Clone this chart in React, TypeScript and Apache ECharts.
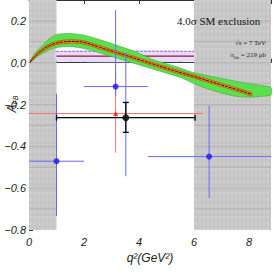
import React, { useEffect, useRef } from "react";
import * as echarts from "echarts";

// ---- data ----
const xTicks = [0, 2, 4, 6, 8];
const yTicks = [-0.8, -0.6, -0.4, -0.2, 0.0, 0.2];
const gridLevels = [-0.7, -0.6, -0.5, -0.4, -0.3, -0.2, -0.1, 0.0, 0.1, 0.2];
const X_MIN = 0, X_MAX = 8.8, Y_MIN = -0.8, Y_MAX = 0.3;

const shadeStart = [0, 6];
const shadeEnd = [1, 8.8];

const greenX = [0.05, 0.25, 0.5, 0.75, 1.0, 1.5, 2.0, 2.5, 3.0, 3.5, 4.0, 4.5, 5.0, 5.5, 6.0, 6.5, 7.0, 7.5, 8.0, 8.5, 8.8];
const greenLo = [0.0, 0.025, 0.045, 0.062, 0.073, 0.078, 0.068, 0.05, 0.03, 0.01, -0.01, -0.03, -0.05, -0.07, -0.1, -0.125, -0.145, -0.16, -0.165, -0.16, -0.155];
const greenHi = [0.01, 0.05, 0.085, 0.115, 0.135, 0.14, 0.132, 0.113, 0.092, 0.07, 0.045, 0.015, -0.005, -0.025, -0.048, -0.062, -0.075, -0.088, -0.1, -0.11, -0.118];

const smX = [0.05, 0.25, 0.5, 0.75, 1.0, 1.25, 1.5, 1.75, 2.0, 2.5, 3.0, 3.5, 4.0, 4.5, 5.0, 5.5, 6.0, 6.5, 7.0, 7.5, 8.0, 8.1];
const smCentral = [0.005, 0.035, 0.062, 0.082, 0.094, 0.1, 0.102, 0.101, 0.097, 0.077, 0.056, 0.036, 0.015, -0.006, -0.027, -0.047, -0.066, -0.086, -0.106, -0.126, -0.147, -0.151];
const orangeLo = [0.0, 0.028, 0.054, 0.074, 0.086, 0.092, 0.094, 0.093, 0.089, 0.069, 0.048, 0.028, 0.007, -0.014, -0.035, -0.055, -0.074, -0.094, -0.114, -0.134, -0.155, -0.159];
const orangeHi = [0.01, 0.042, 0.07, 0.09, 0.102, 0.108, 0.11, 0.109, 0.105, 0.085, 0.064, 0.044, 0.023, 0.002, -0.019, -0.039, -0.058, -0.078, -0.098, -0.118, -0.139, -0.143];

const bandX = [1.0, 6.0];
const bandLo = [0.0095, 0.0095];
const bandHi = [0.054, 0.054];
const bandMid = [0.032, 0.032];

// [x, y, xlo, xhi, ylo, yhi]
const bluePoints = [
  [3.15, -0.114, 2.0, 4.32, -0.16, 0.252],
  [1.0, -0.471, 0.0, 2.0, -0.733, -0.148],
  [6.55, -0.449, 4.32, 8.8, -0.648, -0.205],
];
const blueTotal = [[3.52, -0.263, 3.52, 3.52, -0.543, 0.048]];
const redPoints = [[3.15, -0.243, 0.0, 6.33, -0.43, -0.045]];
const blackPoints = [[3.52, -0.263, 1.0, 6.04, -0.333, -0.19]];

function errorBarSeries(data: number[][], color: string, width: number, cap: number, z: number) {
  return {
    type: "custom",
    z,
    data,
    encode: { x: 0, y: 1 },
    renderItem: (_p: any, api: any) => {
      const x = api.value(0), y = api.value(1);
      const xl = api.value(2), xh = api.value(3), yl = api.value(4), yh = api.value(5);
      const a = api.coord([xl, y]);
      const b = api.coord([xh, y]);
      const c = api.coord([x, yl]);
      const d = api.coord([x, yh]);
      const st = { stroke: color, lineWidth: width };
      const ch: any[] = [];
      if (xh > xl) ch.push({ type: "line", shape: { x1: a[0], y1: a[1], x2: b[0], y2: b[1] }, style: st });
      if (yh > yl) ch.push({ type: "line", shape: { x1: c[0], y1: c[1], x2: d[0], y2: d[1] }, style: st });
      if (cap > 0) {
        ch.push({ type: "line", shape: { x1: a[0], y1: a[1] - cap, x2: a[0], y2: a[1] + cap }, style: st });
        ch.push({ type: "line", shape: { x1: b[0], y1: b[1] - cap, x2: b[0], y2: b[1] + cap }, style: st });
        ch.push({ type: "line", shape: { x1: c[0] - cap, y1: c[1], x2: c[0] + cap, y2: c[1] }, style: st });
        ch.push({ type: "line", shape: { x1: d[0] - cap, y1: d[1], x2: d[0] + cap, y2: d[1] }, style: st });
      }
      return { type: "group", children: ch };
    },
  };
}

function bandSeries(xs: number[], lo: number[], hi: number[], fill: string, stroke: string, z: number) {
  return {
    type: "custom",
    z,
    data: [[xs[0], lo[0]]],
    renderItem: (_p: any, api: any) => {
      const top = xs.map((x, i) => api.coord([x, hi[i]]));
      const bot = xs.map((x, i) => api.coord([x, lo[i]])).reverse();
      return {
        type: "polygon",
        shape: { points: top.concat(bot), smooth: 0.2 },
        style: { fill, stroke, lineWidth: 0.6 },
      };
    },
  };
}

export default function App() {
  const ref = useRef<HTMLDivElement>(null);
  useEffect(() => {
    if (!ref.current) return;
    const chart = echarts.init(ref.current, null, { renderer: "svg" });
    const labelFont = { fontFamily: "Liberation Sans", fontStyle: "italic", fontSize: 11, color: "#222" };
    chart.setOption({
      animation: false,
      grid: { left: 29, right: 0, top: 0, bottom: 44 },
      xAxis: [
        {
          type: "value", min: X_MIN, max: X_MAX, interval: 2,
          axisLine: { show: true, lineStyle: { color: "#333", width: 1 } },
          axisTick: { show: true, inside: true, length: 4, lineStyle: { color: "#333" } },
          minorTick: { show: true, splitNumber: 4, length: 2, lineStyle: { color: "#555" } },
          splitLine: { show: false },
          axisLabel: { ...labelFont, margin: 6, formatter: (v: number) => (xTicks.includes(v) ? String(v) : "") },
        },
        {
          type: "value", position: "top", min: X_MIN, max: X_MAX, interval: 2,
          axisLine: { show: true, lineStyle: { color: "#333", width: 1 } },
          axisTick: { show: true, inside: true, length: 4, lineStyle: { color: "#333" } },
          axisLabel: { show: false }, splitLine: { show: false },
        },
      ],
      yAxis: {
        type: "value", min: Y_MIN, max: Y_MAX, interval: 0.2,
        axisLine: { show: true, lineStyle: { color: "#333", width: 1 } },
        axisTick: { show: true, inside: true, length: 4, lineStyle: { color: "#333" } },
        minorTick: { show: true, splitNumber: 4, length: 2, lineStyle: { color: "#555" } },
        splitLine: { show: false },
        axisLabel: {
          ...labelFont, margin: 3,
          formatter: (v: number) => {
            const t = yTicks.find((k) => Math.abs(k - v) < 1e-6);
            return t === undefined ? "" : t.toFixed(1).replace("-", "−");
          },
        },
      },
      series: [
        {
          type: "custom",
          z: 1,
          data: shadeStart.map((s, i) => [s, shadeEnd[i]]),
          renderItem: (_p: any, api: any) => {
            const x0 = api.value(0), x1 = api.value(1);
            const p0 = api.coord([x0, Y_MAX]);
            const p1 = api.coord([x1, Y_MIN]);
            const ch: any[] = [
              { type: "rect", shape: { x: p0[0], y: p0[1], width: p1[0] - p0[0], height: p1[1] - p0[1] }, style: { fill: "#c6c6c6" } },
            ];
            for (let px = p0[0] + 2; px < p1[0]; px += 4) {
              ch.push({ type: "line", shape: { x1: px, y1: p0[1], x2: px, y2: p1[1] }, style: { stroke: "#d8d8d8", lineWidth: 1, lineDash: [3, 3] } });
            }
            gridLevels.forEach((v) => {
              const yy = api.coord([x0, v])[1];
              ch.push({ type: "line", shape: { x1: p0[0], y1: yy, x2: p1[0], y2: yy }, style: { stroke: "#ababab", lineWidth: 0.7 } });
            });
            return { type: "group", children: ch };
          },
        },
        bandSeries(bandX, bandLo, bandHi, "#e4dcf8", "#d8ccf4", 2),
        {
          type: "line", z: 3, symbol: "none",
          data: bandX.map((x, i) => [x, bandHi[i]]),
          lineStyle: { color: "#8a4fd0", width: 1, type: [2, 2] },
        },
        {
          type: "line", z: 3, symbol: "none",
          data: bandX.map((x, i) => [x, bandMid[i]]),
          lineStyle: { color: "#a0103a", width: 1.2 },
        },
        bandSeries(greenX, greenLo, greenHi, "#5cdf4c", "#3aa83a", 4),
        bandSeries(smX, orangeLo, orangeHi, "#ff8a1a", "#9a4a00", 5),
        {
          type: "line", z: 6, symbol: "none", smooth: true,
          data: smX.map((x, i) => [x, smCentral[i]]),
          lineStyle: { color: "#111", width: 1, type: [3, 1] },
        },
        errorBarSeries(redPoints, "#ff6f6f", 1, 0, 7),
        errorBarSeries(bluePoints, "#6a6aff", 1, 0, 8),
        errorBarSeries(blueTotal, "#6a6aff", 1, 0, 8),
        errorBarSeries(blackPoints, "#000", 1.3, 3, 9),
        {
          type: "scatter", z: 10, symbol: "triangle", symbolSize: 5,
          data: redPoints.map((p) => [p[0], p[1]]),
          itemStyle: { color: "#ff1010" },
        },
        {
          type: "scatter", z: 10, symbol: "circle", symbolSize: 6,
          data: bluePoints.map((p) => [p[0], p[1]]),
          itemStyle: { color: "#1818ee" },
        },
        {
          type: "scatter", z: 10, symbol: "circle", symbolSize: 7,
          data: blackPoints.map((p) => [p[0], p[1]]),
          itemStyle: { color: "#000" },
        },
      ],
      graphic: [
        {
          type: "text", x: 177, y: 21, z: 20,
          style: { text: "4.0σ SM exclusion", font: "11px 'Liberation Serif'", fill: "#111", verticalAlign: "middle" },
        },
        {
          type: "text", x: 266, y: 43, z: 20,
          style: { text: "√s = 7 TeV", font: "7px 'Liberation Serif'", fill: "#222", align: "right", verticalAlign: "middle" },
        },
        {
          type: "text", x: 266, y: 55, z: 20,
          style: {
            text: "{a|σ}{b|bb}{a| = 219 μb}", align: "right", verticalAlign: "middle",
            rich: {
              a: { font: "7px 'Liberation Serif'", fill: "#222" },
              b: { font: "5px 'Liberation Serif'", fill: "#222", padding: [4, 0, 0, 0] },
            },
          },
        },
        {
          type: "text", x: 150, y: 258, z: 20,
          style: { text: "q²(GeV²)", font: "italic 12px 'Liberation Sans'", fill: "#222", align: "center", verticalAlign: "middle" },
        },
        {
          type: "text", x: 12, y: 104, z: 20, rotation: Math.PI / 2,
          style: {
            text: "{a|A}{b|FB}", align: "center", verticalAlign: "middle",
            rich: {
              a: { font: "italic 12px 'Liberation Sans'", fill: "#222" },
              b: { font: "italic 7px 'Liberation Sans'", fill: "#222", padding: [6, 0, 0, 0] },
            },
          },
        },
      ],
    });
    return () => chart.dispose();
  }, []);
  return <div ref={ref} style={{ position: "absolute", left: 0, top: 0, width: 274, height: 274 }} />;
}
